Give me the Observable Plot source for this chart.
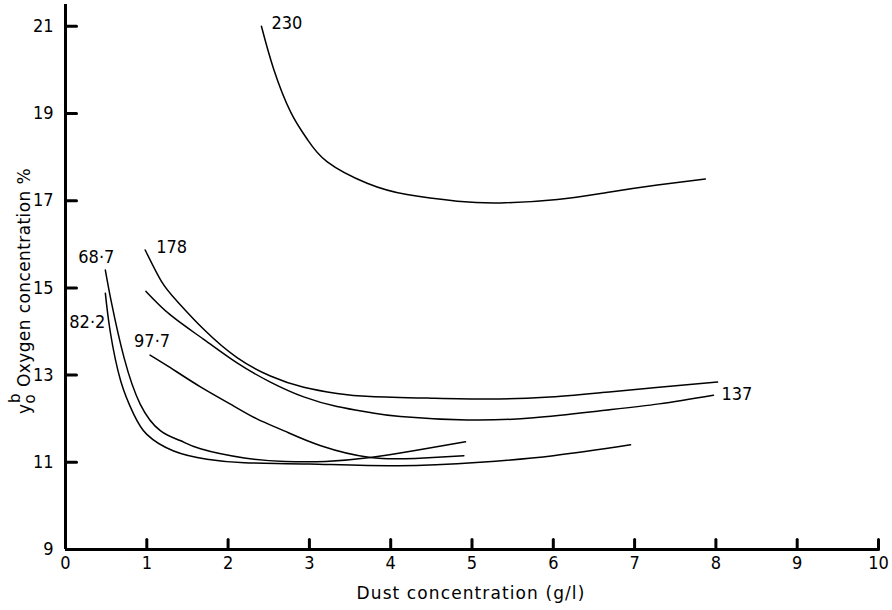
<!DOCTYPE html>
<html><head><meta charset="utf-8">
<script src="https://cdn.jsdelivr.net/npm/d3@7"></script>
<script src="https://cdn.jsdelivr.net/npm/@observablehq/plot@0.6"></script>
<style>
body{margin:0;background:#fff;}
#chart{width:892px;height:610px;}
</style></head><body><div id="chart"></div>
<script>
// Dust concentration (g/l) axis ticks and oxygen concentration (%) axis ticks
const xTicks = [0,1,2,3,4,5,6,7,8,9,10];
const yTicks = [9,11,13,15,17,19,21];

// Series labels (particle size)
const seriesNames = ["230","178","137","97·7","68·7","82·2"];

// Curve 230
const x230 = [2.41, 2.56, 2.77, 2.97, 3.22, 3.71, 4.20, 4.82, 5.35, 6.05, 6.66, 7.28, 7.87];
const y230 = [21.0, 20.02, 19.03, 18.42, 17.89, 17.40, 17.14, 16.99, 16.95, 17.03, 17.19, 17.36, 17.50];
// Curve 178
const x178 = [0.98, 1.18, 1.37, 1.70, 2.11, 2.52, 2.93, 3.34, 3.75, 4.5, 5.2, 5.9, 6.6, 7.3, 8.02];
const y178 = [15.87, 15.15, 14.70, 14.05, 13.40, 12.98, 12.72, 12.58, 12.51, 12.47, 12.45, 12.49, 12.60, 12.72, 12.84];
// Curve 137
const x137 = [0.99, 1.29, 1.70, 2.11, 2.52, 2.93, 3.34, 3.75, 4.12, 4.94, 5.76, 6.58, 7.3, 7.97];
const y137 = [14.92, 14.38, 13.82, 13.28, 12.84, 12.50, 12.28, 12.14, 12.05, 11.97, 12.02, 12.18, 12.34, 12.54];
// Curve 97.7
const x977 = [1.04, 1.29, 1.66, 2.07, 2.36, 2.69, 3.14, 3.75, 4.3, 4.9];
const y977 = [13.46, 13.17, 12.73, 12.29, 11.99, 11.72, 11.38, 11.11, 11.09, 11.15];
// Curve 68.7
const x687 = [0.49, 0.57, 0.72, 0.92, 1.17, 1.41, 1.66, 2.2, 2.7, 3.2, 3.75, 4.3, 4.92];
const y687 = [15.41, 14.62, 13.40, 12.33, 11.72, 11.50, 11.31, 11.10, 11.02, 11.02, 11.11, 11.27, 11.47];
// Curve 82.2
const x822 = [0.49, 0.55, 0.68, 0.84, 1.0, 1.33, 1.74, 2.2, 3.0, 4.1, 5.1, 6.0, 6.95];
const y822 = [14.88, 14.0, 12.86, 12.10, 11.64, 11.26, 11.07, 10.99, 10.96, 10.92, 11.0, 11.15, 11.40];

const seriesX = [x230, x178, x137, x977, x687, x822];
const seriesY = [y230, y178, y137, y977, y687, y822];

const rows = seriesNames.flatMap((name, i) =>
  seriesX[i].map((x, j) => ({series: name, x, y: seriesY[i][j]})));

const first = name => rows.find(d => d.series === name);
const last = name => rows.filter(d => d.series === name).at(-1);

const NUMFONT = '"DejaVu Sans Condensed", "DejaVu Sans", sans-serif';
const FONT = '"DejaVu Sans", sans-serif';

const W = 892, H = 610, ML = 65, MR = 14, MT = 4, MB = 61;
const xDomain = [0, 10], yDomain = [9, 21.5];
// tick lengths in px, expressed in data units for the scales
const xUnitPx = (W - ML - MR) / (xDomain[1] - xDomain[0]);
const yUnitPx = (H - MT - MB) / (yDomain[1] - yDomain[0]);
const xTickSegs = xTicks.slice(1).flatMap(t => [
  {k: "x" + t, x: t, y: yDomain[0]}, {k: "x" + t, x: t, y: yDomain[0] + 10 / yUnitPx}]);
const yTickSegs = yTicks.slice(1).flatMap(t => [
  {k: "y" + t, x: xDomain[0], y: t}, {k: "y" + t, x: xDomain[0] + 11 / xUnitPx, y: t}]);

const chart = Plot.plot({
  width: W, height: H,
  marginLeft: ML, marginRight: MR, marginTop: MT, marginBottom: MB,
  style: {fontFamily: NUMFONT, fontSize: "18px", color: "#000", background: "#fff", overflow: "visible"},
  x: {domain: xDomain},
  y: {domain: yDomain},
  marks: [
    Plot.axisX(xTicks, {tickSize: 0, tickPadding: 7, tickFormat: d => String(d), label: null}),
    Plot.axisY(yTicks, {tickSize: 0, tickPadding: 12, tickFormat: d => String(d), label: null}),
    Plot.ruleX([0], {stroke: "#000", strokeWidth: 3}),
    Plot.ruleY([9], {stroke: "#000", strokeWidth: 3}),
    Plot.line(xTickSegs, {x: "x", y: "y", z: "k", stroke: "#000", strokeWidth: 3}),
    Plot.line(yTickSegs, {x: "x", y: "y", z: "k", stroke: "#000", strokeWidth: 3}),
    Plot.line(rows, {x: "x", y: "y", z: "series", curve: "natural", stroke: "#000", strokeWidth: 1.5}),
    Plot.text([first("230")], {x: "x", y: "y", text: "series", textAnchor: "start", dx: 10, dy: -3}),
    Plot.text([first("178")], {x: "x", y: "y", text: "series", textAnchor: "start", dx: 11, dy: -3}),
    Plot.text([first("68·7")], {x: "x", y: "y", text: "series", textAnchor: "middle", dx: -9, dy: -13}),
    Plot.text([first("82·2")], {x: "x", y: "y", text: "series", textAnchor: "end", dx: 0, dy: 29}),
    Plot.text([first("97·7")], {x: "x", y: "y", text: "series", textAnchor: "middle", dx: 2, dy: -14}),
    Plot.text([last("137")], {x: "x", y: "y", text: "series", textAnchor: "start", dx: 8, dy: -1})
  ]
});

document.getElementById("chart").appendChild(chart);

const svg = d3.select(chart);
// X axis title
svg.append("text")
  .attr("x", 471).attr("y", 599)
  .attr("font-family", FONT).attr("font-size", 17)
  .attr("letter-spacing", "1.1px")
  .attr("fill", "#000").attr("text-anchor", "middle")
  .text("Dust concentration (g/l)");
// Y axis title with stacked sub/superscript
const t = svg.append("text")
  .attr("transform", "translate(30,414) rotate(-90)")
  .attr("font-family", FONT)
  .attr("font-size", 17)
  .attr("letter-spacing", "0.4px")
  .attr("fill", "#000")
  .attr("text-anchor", "start");
t.append("tspan").text("y");
t.append("tspan").attr("dy", 5).attr("font-size", 15).text("o");
t.append("tspan").attr("dx", -9).attr("dy", -15).attr("font-size", 15).text("b");
t.append("tspan").attr("dy", 10).attr("dx", 6).text("Oxygen concentration %");
</script>
</body></html>
